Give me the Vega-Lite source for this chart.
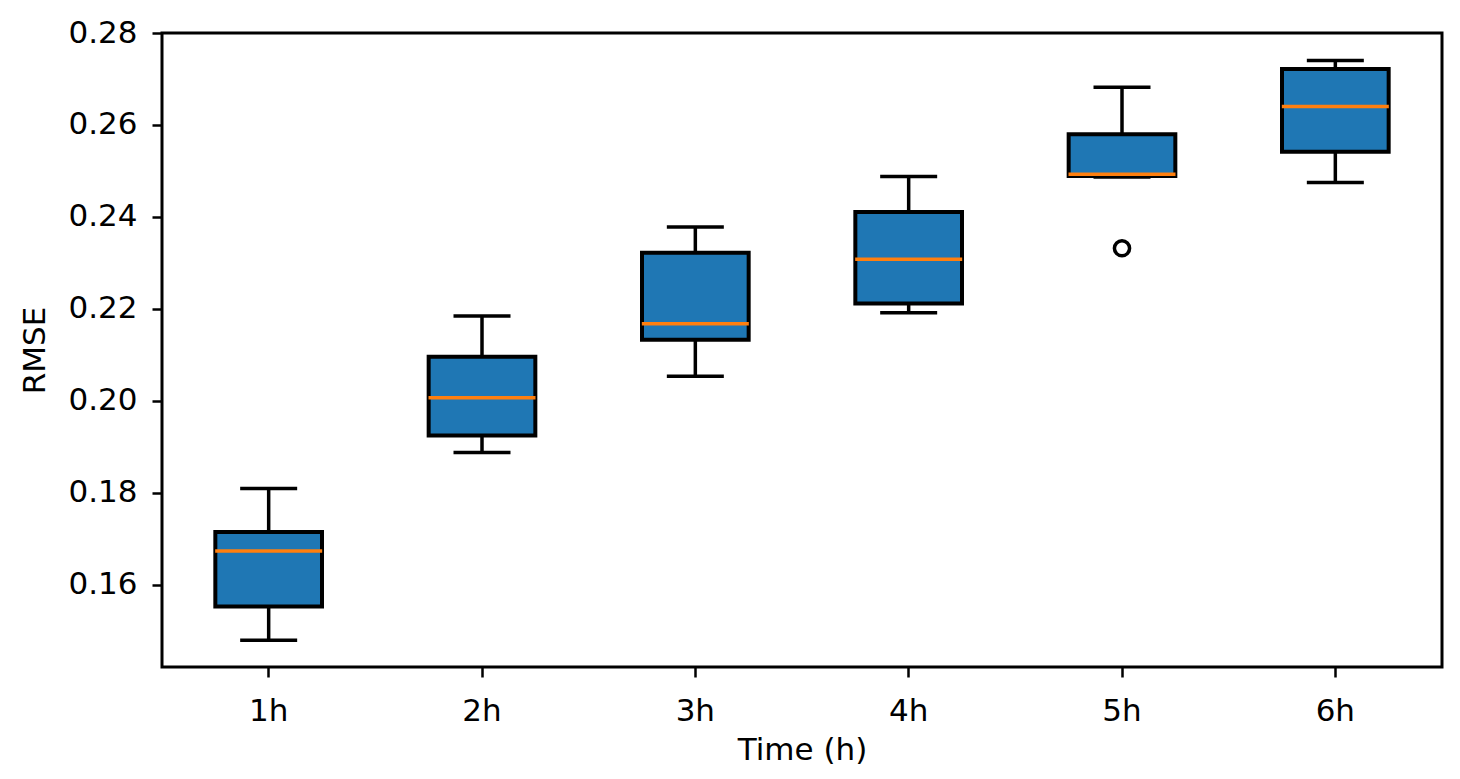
{
  "$schema": "https://vega.github.io/schema/vega-lite/v6.json",
  "autosize": {"type": "none"},
  "width": 1280,
  "height": 634,
  "padding": {"left": 162, "top": 33, "right": 18, "bottom": 112},
  "background": "white",
  "config": {
    "view": {"stroke": "black", "strokeWidth": 3},
    "font": "DejaVu Sans",
    "axis": {
      "grid": false,
      "domain": false,
      "tickColor": "black",
      "tickWidth": 2.5,
      "tickSize": 10,
      "labelColor": "black",
      "labelFont": "DejaVu Sans",
      "labelFontSize": 31,
      "titleFont": "DejaVu Sans",
      "titleFontSize": 31,
      "titleFontWeight": "normal",
      "titleColor": "black"
    }
  },
  "datasets": {
    "boxes": [
      {"time": "1h", "lower": 0.1480, "q1": 0.1553, "median": 0.1674, "q3": 0.1715, "upper": 0.1810},
      {"time": "2h", "lower": 0.1888, "q1": 0.1925, "median": 0.2007, "q3": 0.2096, "upper": 0.2185},
      {"time": "3h", "lower": 0.2054, "q1": 0.2133, "median": 0.2168, "q3": 0.2322, "upper": 0.2378},
      {"time": "4h", "lower": 0.2192, "q1": 0.2212, "median": 0.2308, "q3": 0.2411, "upper": 0.2488},
      {"time": "5h", "lower": 0.2487, "q1": 0.2489, "median": 0.2493, "q3": 0.2580, "upper": 0.2682},
      {"time": "6h", "lower": 0.2475, "q1": 0.2542, "median": 0.2640, "q3": 0.2722, "upper": 0.2740}
    ],
    "outliers": [
      {"time": "5h", "value": 0.2332}
    ]
  },
  "encoding": {
    "x": {
      "field": "time",
      "type": "nominal",
      "scale": {"type": "band", "domain": ["1h", "2h", "3h", "4h", "5h", "6h"], "paddingInner": 0, "paddingOuter": 0},
      "axis": {"title": "Time (h)", "labelAngle": 0, "labelPadding": 19, "titlePadding": 9}
    }
  },
  "layer": [
    {
      "data": {"name": "boxes"},
      "mark": {"type": "rule", "color": "black", "strokeWidth": 3.5},
      "encoding": {
        "y": {"field": "lower", "type": "quantitative",
          "scale": {"domain": [0.14217, 0.28], "nice": false, "zero": false},
          "axis": {"title": "RMSE", "values": [0.16, 0.18, 0.2, 0.22, 0.24, 0.26, 0.28], "format": ".2f", "labelPadding": 15, "titlePadding": 16}},
        "y2": {"field": "q1"}
      }
    },
    {
      "data": {"name": "boxes"},
      "mark": {"type": "rule", "color": "black", "strokeWidth": 3.5},
      "encoding": {
        "y": {"field": "q3", "type": "quantitative"},
        "y2": {"field": "upper"}
      }
    },
    {
      "data": {"name": "boxes"},
      "mark": {"type": "tick", "color": "black", "opacity": 1, "thickness": 3.5, "size": 57, "orient": "horizontal"},
      "encoding": {"y": {"field": "lower", "type": "quantitative"}}
    },
    {
      "data": {"name": "boxes"},
      "mark": {"type": "tick", "color": "black", "opacity": 1, "thickness": 3.5, "size": 57, "orient": "horizontal"},
      "encoding": {"y": {"field": "upper", "type": "quantitative"}}
    },
    {
      "data": {"name": "boxes"},
      "mark": {"type": "bar", "fill": "#1f77b4", "stroke": "black", "strokeWidth": 4, "width": {"band": 0.5}},
      "encoding": {
        "y": {"field": "q1", "type": "quantitative"},
        "y2": {"field": "q3"}
      }
    },
    {
      "data": {"name": "boxes"},
      "mark": {"type": "tick", "color": "#ff7f0e", "opacity": 1, "thickness": 3.5, "size": 107, "orient": "horizontal"},
      "encoding": {"y": {"field": "median", "type": "quantitative"}}
    },
    {
      "data": {"name": "outliers"},
      "mark": {"type": "point", "shape": "circle", "filled": false, "stroke": "black", "strokeWidth": 3.5, "size": 230, "opacity": 1},
      "encoding": {"y": {"field": "value", "type": "quantitative"}}
    }
  ]
}
